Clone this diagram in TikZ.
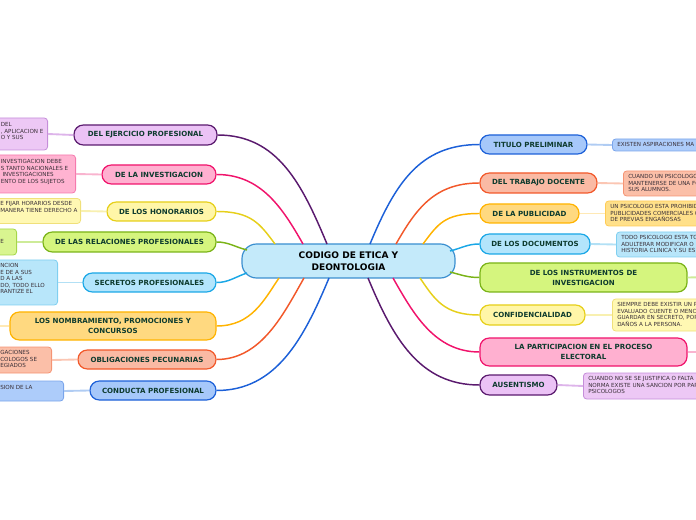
\documentclass[tikz,border=0pt]{standalone}
\usepackage{fontspec}
\setmainfont{DejaVu Sans}
\definecolor{txt}{HTML}{0E3B2E}
\definecolor{subtxt}{HTML}{3A3038}
% purple
\definecolor{pL}{HTML}{5A1A6E}\definecolor{pF}{HTML}{EBC2F5}\definecolor{pS}{HTML}{EDC8F5}\definecolor{pB}{HTML}{C58ED9}\definecolor{pC}{HTML}{DDB4EA}
% pink
\definecolor{kL}{HTML}{F0136B}\definecolor{kF}{HTML}{FFB0D0}\definecolor{kS}{HTML}{FFB3D1}\definecolor{kB}{HTML}{F57AAE}\definecolor{kC}{HTML}{F9B4CF}
% yellow
\definecolor{yL}{HTML}{E6CF1A}\definecolor{yF}{HTML}{FFF6A8}\definecolor{yS}{HTML}{FFF8B3}\definecolor{yB}{HTML}{F0E07A}\definecolor{yC}{HTML}{F8F0B0}
% green
\definecolor{gL}{HTML}{7AB317}\definecolor{gF}{HTML}{D5F57E}\definecolor{gS}{HTML}{D9F590}\definecolor{gB}{HTML}{A5D64A}\definecolor{gC}{HTML}{CDEB98}
% light blue
\definecolor{cL}{HTML}{1AA7E6}\definecolor{cF}{HTML}{B3E5FC}\definecolor{cS}{HTML}{B8E6FA}\definecolor{cB}{HTML}{7FCFF0}\definecolor{cC}{HTML}{B2E0F5}
% orange-yellow
\definecolor{oL}{HTML}{FFB300}\definecolor{oF}{HTML}{FFD980}\definecolor{oS}{HTML}{FFE08A}\definecolor{oB}{HTML}{FFCC55}\definecolor{oC}{HTML}{FFE9B5}
% salmon
\definecolor{sL}{HTML}{F2582A}\definecolor{sF}{HTML}{FABAA4}\definecolor{sS}{HTML}{FBBFA8}\definecolor{sB}{HTML}{F59474}\definecolor{sC}{HTML}{FBC6B3}
% blue
\definecolor{bL}{HTML}{1C60D8}\definecolor{bF}{HTML}{A6C8FA}\definecolor{bS}{HTML}{ADCCFA}\definecolor{bB}{HTML}{7AA5EB}\definecolor{bC}{HTML}{B0CCF3}
% center
\definecolor{mF}{HTML}{C4EAFA}\definecolor{mB}{HTML}{3A8FD0}
\begin{document}
\begin{tikzpicture}[x=0.75pt,y=-0.75pt,
  br/.style={rounded corners=7pt, line width=0.9pt, inner sep=0pt, text=txt,
    font=\fontsize{5.3}{7.5}\selectfont\bfseries, align=center},
  sbox/.style={rounded corners=2.5pt, line width=0.6pt, inner sep=0pt},
  stxt/.style={inner sep=0pt, align=left, text=subtxt, anchor=north west,
    font=\fontsize{4.2}{4.9}\selectfont},
  conn/.style={line width=1.1pt},
  sconn/.style={line width=1.4pt}]
\useasboundingbox (0,0) rectangle (696,520);
\clip (0,0) rectangle (696,520);

% center
\node[rounded corners=11pt, line width=0.9pt, draw=mB, fill=mF, inner sep=0pt,
  minimum width=159.75pt, minimum height=25.5pt, align=center,
  font=\fontsize{6.8}{9}\selectfont\bfseries] (c) at (348.5,261) {CODIGO DE ETICA Y\\DEONTOLOGIA};

% left branches
\node[br, draw=pL, fill=pF, minimum width=107.25pt, minimum height=15pt] (b1) at (145.5,135) {DEL EJERCICIO PROFESIONAL};
\node[br, draw=kL, fill=kF, minimum width=85.5pt, minimum height=14.25pt] (b2) at (159,174.5) {DE LA INVESTIGACION};
\node[br, draw=yL, fill=yF, minimum width=81.75pt, minimum height=14.25pt] (b3) at (161.5,211.5) {DE LOS HONORARIOS};
\node[br, draw=gL, fill=gF, minimum width=129.75pt, minimum height=15pt] (b4) at (129.5,242) {DE LAS RELACIONES PROFESIONALES};
\node[br, draw=cL, fill=cF, minimum width=99.75pt, minimum height=14.25pt] (b5) at (149.5,282.5) {SECRETOS PROFESIONALES};
\node[br, draw=oL, fill=oF, minimum width=154.5pt, minimum height=21pt] (b6) at (113,326) {LOS NOMBRAMIENTO, PROMOCIONES Y\\CONCURSOS};
\node[br, draw=sL, fill=sF, minimum width=103.5pt, minimum height=14.25pt] (b7) at (147,359.5) {OBLIGACIONES PECUNARIAS};
\node[br, draw=bL, fill=bF, minimum width=94.5pt, minimum height=14.25pt] (b8) at (153,390.5) {CONDUCTA PROFESIONAL};

% right branches
\node[br, draw=bL, fill=bF, minimum width=80.25pt, minimum height=14.25pt] (r1) at (533.5,144.5) {TITULO PRELIMINAR};
\node[br, draw=sL, fill=sF, minimum width=87.75pt, minimum height=15pt] (r2) at (538.5,183) {DEL TRABAJO DOCENTE};
\node[br, draw=oL, fill=oF, minimum width=74.25pt, minimum height=14.25pt] (r3) at (529.5,213.5) {DE LA PUBLICIDAD};
\node[br, draw=cL, fill=cF, minimum width=82.5pt, minimum height=15pt] (r4) at (535,244) {DE LOS DOCUMENTOS};
\node[br, draw=gL, fill=gF, minimum width=155.25pt, minimum height=21.75pt] (r5) at (583.5,277.5) {DE LOS INSTRUMENTOS DE\\INVESTIGACION};
\node[br, draw=yL, fill=yF, minimum width=78.75pt, minimum height=15pt] (r6) at (532.5,315) {CONFIDENCIALIDAD};
\node[br, draw=kL, fill=kF, minimum width=155.25pt, minimum height=21pt] (r7) at (583.5,352) {LA PARTICIPACION EN EL PROCESO\\ELECTORAL};
\node[br, draw=pL, fill=pF, minimum width=57.75pt, minimum height=15pt] (r8) at (518.5,385) {AUSENTISMO};

% left sub boxes
\node[sbox, draw=pB, fill=pS, anchor=east, minimum width=60pt, minimum height=24pt] (s1) at (48,134) {};
\node[sbox, draw=kB, fill=kS, anchor=east, minimum width=75pt, minimum height=28.5pt] (s2) at (76,174) {};
\node[sbox, draw=yB, fill=yS, anchor=east, minimum width=75pt, minimum height=18.75pt] (s3) at (81,211) {};
\node[sbox, draw=gB, fill=gS, anchor=east, minimum width=40pt, minimum height=19.5pt] (s4) at (17,242) {};
\node[sbox, draw=cB, fill=cS, anchor=east, minimum width=60pt, minimum height=33.75pt] (s5) at (58,282.5) {};
\node[sbox, draw=sB, fill=sS, anchor=east, minimum width=60pt, minimum height=19.5pt] (s7) at (52,360) {};
\node[sbox, draw=bB, fill=bS, anchor=east, minimum width=60pt, minimum height=15pt] (s8) at (64,391) {};

\node[stxt] (s1t) at (0.5,122.2) {DEL\\, APLICACION E\\O Y SUS};
\node[stxt] (s2t) at (0.5,159.2) {INVESTIGACION DEBE\\S TANTO NACIONALES E\\\ INVESTIGACIONES\\ENTO DE LOS SUJETOS};
\node[stxt] (s3t) at (0,201.2) {E FIJAR HORARIOS DESDE\\MANERA TIENE DERECHO A};
\node[stxt] (s4t) at (0,239.2) {E};
\node[stxt] (s5t) at (0,263.2) {NCION\\E DE A SUS\\D A LAS\\DO, TODO ELLO\\RANTIZE EL};
\node[stxt] (s7t) at (0,350.2) {GACIONES\\COLOGOS SE\\EGIADOS};
\node[stxt] (s8t) at (0,385.2) {SION DE LA};

% right sub boxes
\node[sbox, draw=bB, fill=bS, anchor=west, minimum width=120pt, minimum height=9pt] (u1) at (612,145) {};
\node[sbox, draw=sB, fill=sS, anchor=west, minimum width=120pt, minimum height=18.75pt] (u2) at (623,183.5) {};
\node[sbox, draw=oB, fill=oS, anchor=west, minimum width=120pt, minimum height=18.75pt] (u3) at (605,213.5) {};
\node[sbox, draw=cB, fill=cS, anchor=west, minimum width=120pt, minimum height=18.75pt] (u4) at (616,244.5) {};
\node[sbox, draw=yB, fill=yS, anchor=west, minimum width=120pt, minimum height=24pt] (u6) at (612,315) {};
\node[sbox, draw=pB, fill=pS, anchor=west, minimum width=120pt, minimum height=19.5pt] (u8) at (583,386) {};

\node[stxt] (u1t) at (617,142.2) {EXISTEN ASPIRACIONES MA};
\node[stxt] (u2t) at (628,174.2) {CUANDO UN PSICOLOGO\\MANTENERSE DE UNA FO\\SUS ALUMNOS.};
\node[stxt] (u3t) at (610,204.2) {UN PSICOLOGO ESTA PROHIBID\\PUBLICIDADES COMERCIALES C\\DE PREVIAS ENGAÑOSAS};
\node[stxt] (u4t) at (621,235.2) {TODO PSICOLOGO ESTA TO\\ADULTERAR MODIFICAR O\\HISTORIA CLINICA Y SU ES};
\node[stxt] (u6t) at (617,302.2) {SIEMPRE DEBE EXISTIR UN P\\EVALUADO CUENTE O MENCI\\GUARDAR EN SECRETO, POR\\DAÑOS A LA PERSONA.};
\node[stxt] (u8t) at (588,376.2) {CUANDO NO SE SE JUSTIFICA O FALTA\\NORMA EXISTE UNA SANCION POR PAR\\PSICOLOGOS};

% off-canvas ends
\coordinate (o6) at (-10,326);
\coordinate (o5) at (710,277);
\coordinate (o7) at (710,352);

% start points on the centre
\coordinate (cl1) at (327,244); \coordinate (cl2) at (303,244); \coordinate (cl3) at (275,244);
\coordinate (cl4) at (247,250); \coordinate (cl5) at (247,273); \coordinate (cl6) at (279,278);
\coordinate (cl7) at (304,278); \coordinate (cl8) at (329,278);
\coordinate (cr1) at (370,244); \coordinate (cr2) at (396,244); \coordinate (cr3) at (423,244);
\coordinate (cr4) at (450,251); \coordinate (cr5) at (450,272); \coordinate (cr6) at (420,278);
\coordinate (cr7) at (393,278); \coordinate (cr8) at (368,278);

% main connectors
\draw[conn, pL] (cl1) .. controls +(-25,-60) and +(60,0) .. (b1.east);
\draw[conn, kL] (cl2) .. controls +(-20,-35) and +(45,0) .. (b2.east);
\draw[conn, yL] (cl3) .. controls +(-15,-20) and +(35,0) .. (b3.east);
\draw[conn, gL] (cl4) .. controls +(-12,-3) and +(12,0) .. (b4.east);
\draw[conn, cL] (cl5) .. controls +(-12,4) and +(12,0) .. (b5.east);
\draw[conn, oL] (cl6) .. controls +(-15,22) and +(35,0) .. (b6.east);
\draw[conn, sL] (cl7) .. controls +(-20,35) and +(45,0) .. (b7.east);
\draw[conn, bL] (cl8) .. controls +(-25,60) and +(60,0) .. (b8.east);

\draw[conn, bL] (cr1) .. controls +(25,-60) and +(-60,0) .. (r1.west);
\draw[conn, sL] (cr2) .. controls +(20,-35) and +(-45,0) .. (r2.west);
\draw[conn, oL] (cr3) .. controls +(15,-20) and +(-35,0) .. (r3.west);
\draw[conn, cL] (cr4) .. controls +(12,-3) and +(-12,0) .. (r4.west);
\draw[conn, gL] (cr5) .. controls +(12,3) and +(-12,0) .. (r5.west);
\draw[conn, yL] (cr6) .. controls +(15,22) and +(-35,0) .. (r6.west);
\draw[conn, kL] (cr7) .. controls +(20,35) and +(-45,0) .. (r7.west);
\draw[conn, pL] (cr8) .. controls +(25,60) and +(-60,0) .. (r8.west);

% sub connectors
\draw[sconn, pC] (b1.west) -- (s1.east);
\draw[sconn, kC] (b2.west) -- (s2.east);
\draw[sconn, yC] (b3.west) -- (s3.east);
\draw[sconn, gC] (b4.west) -- (s4.east);
\draw[sconn, cC] (b5.west) -- (s5.east);
\draw[sconn, oC] (b6.west) -- (o6);
\draw[sconn, sC] (b7.west) -- (s7.east);
\draw[sconn, bC] (b8.west) -- (s8.east);
\draw[sconn, bC] (r1.east) -- (u1.west);
\draw[sconn, sC] (r2.east) -- (u2.west);
\draw[sconn, oC] (r3.east) -- (u3.west);
\draw[sconn, cC] (r4.east) -- (u4.west);
\draw[sconn, gC] (r5.east) -- (o5);
\draw[sconn, yC] (r6.east) -- (u6.west);
\draw[sconn, kC] (r7.east) -- (o7);
\draw[sconn, pC] (r8.east) -- (u8.west);
\end{tikzpicture}
\end{document}
